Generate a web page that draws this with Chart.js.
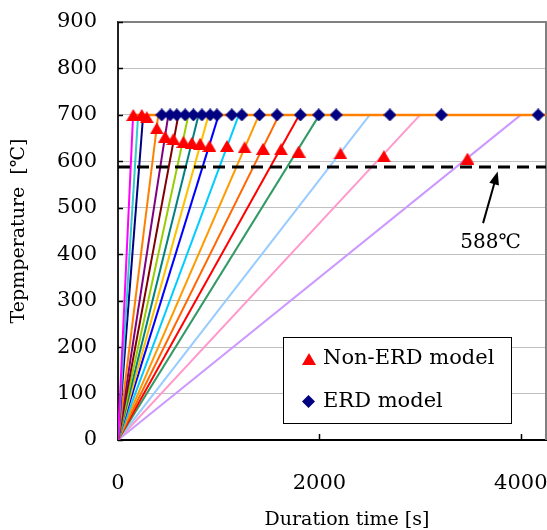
<!DOCTYPE html>
<html lang="en">
<head>
<meta charset="UTF-8">
<title>Temperature - Duration time</title>
<script src="https://cdn.jsdelivr.net/npm/chart.js"></script>
<style>
  html, body { margin: 0; padding: 0; background: #fff; }
  #wrap { width: 547px; height: 530px; }
</style>
</head>
<body>
<div id="wrap"><canvas id="tempChart" width="547" height="530"></canvas></div>
<script>
// time [s] at which each heating ramp reaches the hold temperature
const rampEnds = [150, 200, 250, 400, 500, 600, 700, 800, 900, 1000, 1200, 1400, 1600, 1800, 2000, 2500, 3000, 4000];
const rampColors = ['#ff00ff', '#33cccc', '#000080', '#ff8000', '#800080', '#800000', '#99cc00', '#008080', '#ffc000',
                    '#0000ff', '#00ccff', '#ff9900', '#ff6600', '#ff0000', '#339966', '#99ccff', '#ff99cc', '#cc99ff'];
const holdTemp = 700;
const holdSpan = [150, 4300];

// failure points
const nonErdTimes = [152, 236, 286, 385, 468, 550, 650, 733, 816, 908, 1082, 1257, 1440, 1619, 1794, 2209, 2640, 3470];
const nonErdTemps = [700, 700, 695, 671, 653, 648, 642, 640, 638, 633, 633, 630, 627, 626, 621, 617, 611, 606];
const erdTimes = [435, 517, 584, 667, 749, 833, 915, 982, 1130, 1230, 1405, 1579, 1811, 1993, 2166, 2700, 3211, 4172];
const erdTemps = [700, 700, 700, 700, 700, 700, 700, 700, 700, 700, 700, 700, 700, 700, 700, 700, 700, 700];

const criticalTemp = 588;
const xTicks = [0, 2000, 4000];
const yTicks = [0, 100, 200, 300, 400, 500, 600, 700, 800, 900];
const legendLabels = ['Non-ERD model', 'ERD model'];
const xTitle = 'Duration time [s]';

const serif = '"DejaVu Serif", "Noto Sans CJK JP", serif';

function triangleMark(w, h, color) {
  const c = document.createElement('canvas');
  c.width = w; c.height = h;
  const g = c.getContext('2d');
  g.fillStyle = color;
  g.beginPath();
  g.moveTo(w / 2, 0); g.lineTo(w, h); g.lineTo(0, h);
  g.closePath(); g.fill();
  return c;
}
function diamondMark(s, color) {
  const c = document.createElement('canvas');
  c.width = s; c.height = s;
  const g = c.getContext('2d');
  g.fillStyle = color;
  g.beginPath();
  g.moveTo(s / 2, 0); g.lineTo(s, s / 2); g.lineTo(s / 2, s); g.lineTo(0, s / 2);
  g.closePath(); g.fill();
  return c;
}
const triMark = triangleMark(14, 12, '#ff0000');
const diaMark = diamondMark(13, '#000080');

const datasets = [
  {
    label: legendLabels[0],
    data: nonErdTimes.map((t, i) => ({ x: t, y: nonErdTemps[i] })),
    showLine: false, pointStyle: triMark, pointRadius: 7
  },
  {
    label: legendLabels[1],
    data: erdTimes.map((t, i) => ({ x: t, y: erdTemps[i] })),
    showLine: false, pointStyle: diaMark, pointRadius: 7
  },
  {
    label: '588',
    data: [{ x: 0, y: criticalTemp }, { x: 4300, y: criticalTemp }],
    showLine: true, borderColor: '#000', borderWidth: 3, borderDash: [12, 7], pointRadius: 0
  },
  {
    label: 'hold',
    data: holdSpan.map(t => ({ x: t, y: holdTemp })),
    showLine: true, borderColor: '#ff8000', borderWidth: 2.5, pointRadius: 0
  }
];
rampEnds.forEach((t, i) => {
  datasets.push({
    label: 'ramp ' + t,
    data: [{ x: 0, y: 0 }, { x: t, y: holdTemp }],
    showLine: true, borderColor: rampColors[i], borderWidth: 2, pointRadius: 0
  });
});

// keep the plot frame at a fixed right edge (the last tick label may stick out)
const fixRight = {
  id: 'fixRight',
  afterLayout(chart) {
    const a = chart.chartArea, x = chart.scales.x;
    a.right = chart.width - 1;
    a.width = a.right - a.left;
    x.right = a.right;
    x.width = x.right - x.left;
    x.configure();
  }
};

// frame, inward tick marks, arrow, x title and legend box
const decor = {
  id: 'decor',
  beforeDatasetsDraw(chart) {
    const { ctx, chartArea: a, scales: { x, y } } = chart;
    ctx.save();
    ctx.strokeStyle = '#808080';
    ctx.lineWidth = 2;
    ctx.beginPath();
    ctx.moveTo(a.left, a.top); ctx.lineTo(a.right, a.top); ctx.lineTo(a.right, a.bottom);
    ctx.stroke();
    ctx.strokeStyle = '#000';
    ctx.lineWidth = 1.5;
    ctx.beginPath();
    yTicks.forEach(v => {
      const py = Math.round(y.getPixelForValue(v)) + 0.5;
      ctx.moveTo(a.left, py); ctx.lineTo(a.left + 5, py);
    });
    xTicks.forEach(v => {
      const px = Math.round(x.getPixelForValue(v)) + 0.5;
      ctx.moveTo(px, a.bottom); ctx.lineTo(px, a.bottom - 6);
    });
    ctx.stroke();
    ctx.restore();
  },
  afterDraw(chart) {
    const { ctx, chartArea: a, scales: { x, y } } = chart;
    ctx.save();
    // arrow to the 588 line
    const x0 = x.getPixelForValue(3625), y0 = y.getPixelForValue(467);
    const x1 = x.getPixelForValue(3770), y1 = y.getPixelForValue(578);
    const ang = Math.atan2(y1 - y0, x1 - x0);
    ctx.strokeStyle = '#000';
    ctx.fillStyle = '#000';
    ctx.lineWidth = 2;
    ctx.beginPath();
    ctx.moveTo(x0, y0);
    ctx.lineTo(x1 - 10 * Math.cos(ang), y1 - 10 * Math.sin(ang));
    ctx.stroke();
    ctx.beginPath();
    ctx.moveTo(x1, y1);
    ctx.lineTo(x1 - 13 * Math.cos(ang) + 5 * Math.sin(ang), y1 - 13 * Math.sin(ang) - 5 * Math.cos(ang));
    ctx.lineTo(x1 - 13 * Math.cos(ang) - 5 * Math.sin(ang), y1 - 13 * Math.sin(ang) + 5 * Math.cos(ang));
    ctx.closePath();
    ctx.fill();
    ctx.font = '20px ' + serif;
    ctx.textAlign = 'center';
    ctx.textBaseline = 'middle';
    ctx.fillText(criticalTemp + '℃', x.getPixelForValue(3700), y.getPixelForValue(425));

    // x axis title, set a little right of the plot centre
    ctx.font = '19px ' + serif;
    ctx.fillText(xTitle, (a.left + a.right) / 2 + 15, chart.height - 10);

    // legend box
    const lx = a.left + 165, ly = a.top + 315, lw = 228, lh = 86;
    ctx.fillStyle = '#fff';
    ctx.fillRect(lx, ly, lw, lh);
    ctx.strokeStyle = '#000';
    ctx.lineWidth = 1;
    ctx.strokeRect(lx + 0.5, ly + 0.5, lw, lh);
    ctx.drawImage(triMark, lx + 19, ly + 16);
    ctx.drawImage(diaMark, lx + 19, ly + 58);
    ctx.fillStyle = '#000';
    ctx.textAlign = 'left';
    ctx.font = '21px ' + serif;
    ctx.fillText(legendLabels[0], lx + 40, ly + 22);
    ctx.fillText(legendLabels[1], lx + 40, ly + 65);
    ctx.restore();
  }
};

new Chart(document.getElementById('tempChart'), {
  type: 'scatter',
  data: { datasets },
  options: {
    responsive: false,
    animation: false,
    devicePixelRatio: 1,
    layout: { padding: { top: 22, right: 1, left: 0, bottom: 0 } },
    plugins: { legend: { display: false }, tooltip: { enabled: false } },
    scales: {
      x: {
        type: 'linear', min: 0, max: 4250,
        afterBuildTicks: s => { s.ticks = xTicks.map(v => ({ value: v })); },
        afterFit: s => { s.height = 90; s.paddingLeft = 0; s.paddingRight = 0; },
        grid: { display: false, drawTicks: false },
        border: { color: '#000', width: 2 },
        ticks: { padding: 31, color: '#000', font: { family: serif, size: 21 }, callback: v => String(v) },
        title: { display: false }
      },
      y: {
        min: 0, max: 900,
        afterBuildTicks: s => { s.ticks = yTicks.map(v => ({ value: v })); },
        afterFit: s => { s.width = 118; s.paddingTop = 0; s.paddingBottom = 0; },
        grid: { drawTicks: false, color: c => (c.tick.value === 0 || c.tick.value === 900) ? 'rgba(0,0,0,0)' : '#c0c0c0' },
        border: { color: '#222', width: 2 },
        ticks: { padding: 21, color: '#000', font: { family: serif, size: 21 }, callback: v => String(v) },
        title: { display: true, text: 'Tepmperature  [℃]', color: '#000',
                 font: { family: serif, size: 19, lineHeight: 1 }, padding: { top: 10, bottom: 0 } }
      }
    }
  },
  plugins: [fixRight, decor]
});
</script>
</body>
</html>
